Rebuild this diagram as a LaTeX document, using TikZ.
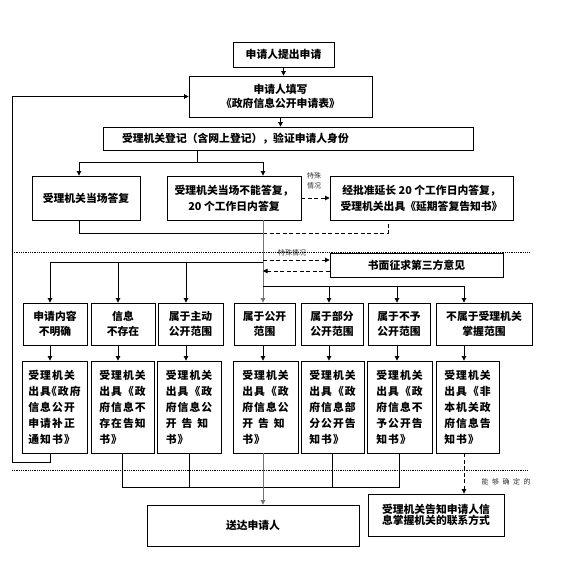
\documentclass[tikz,border=0pt]{standalone}
\usepackage{fontspec}
\setmainfont{Noto Sans CJK SC}
\newfontfamily\dfont[LetterSpace=10]{Noto Sans CJK SC}
\newfontfamily\sfont[LetterSpace=50]{Noto Sans CJK SC}
\usetikzlibrary{arrows.meta}

\begin{document}
\begin{tikzpicture}[
  x=1pt, y=-1pt,
  box/.style={draw, line width=0.8pt, inner sep=1pt, align=center,
              font=\fontsize{10.8}{15}\selectfont\bfseries},
  kind/.style={box, minimum height=42pt},
  doc/.style={draw, line width=0.8pt, inner sep=1pt, align=left,
              minimum height=92pt, font=\dfont\fontsize{10.8}{16}\selectfont\bfseries},
  arrow/.style={-{Triangle[length=4.5pt,width=4.5pt]}, line width=0.7pt},
  link/.style={line width=0.7pt},
  spine/.style={line width=0.7pt, black!55},
  maybe/.style={line width=0.7pt, dash pattern=on 4pt off 2.5pt},
  sep/.style={line width=0.6pt, dash pattern=on 0.8pt off 1pt},
  note/.style={font=\fontsize{7}{10}\selectfont, align=center, text=black!80, inner sep=0pt}
]
  \useasboundingbox (0,0) rectangle (563,561);

  % top part
  \node[box, minimum width=101pt, minimum height=25pt] (apply) at (283.5,54.5) {申请人提出申请};
  \node[box, minimum width=183pt, minimum height=41pt, font=\fontsize{10.8}{14}\selectfont\bfseries]
        (fill) at (280.5,96.5) {申请人填写\\《政府信息公开申请表》};
  \node[box, minimum width=370pt, minimum height=23pt, text width=332pt, align=left]
        (register) at (288,138.5) {受理机关登记（含网上登记），验证申请人身份};

  \node[box, minimum width=108pt, minimum height=44pt] (now) at (86,198) {受理机关当场答复};
  \node[box, minimum width=134pt, minimum height=44pt, font=\fontsize{10.8}{16}\selectfont\bfseries]
        (later) at (234,198) {受理机关当场不能答复，\\20 个工作日内答复};
  \node[box, minimum width=183pt, minimum height=44pt, font=\fontsize{10.8}{16}\selectfont\bfseries]
        (extend) at (421.5,198) {经批准延长 20 个工作日内答复，\\受理机关出具《延期答复告知书》};
  \node[note] (special1) at (314,181) {特殊\\情况};

  \node[box, minimum width=173pt, minimum height=24pt] (consult) at (416.5,265) {书面征求第三方意见};
  \node[note] (special2) at (292,253) {特殊情况};

  % kinds of request
  \node[kind, minimum width=64pt] (unclear)  at (55,324)    {申请内容\\不明确};
  \node[kind, minimum width=64pt] (nonexist) at (123,324)   {信息\\不存在};
  \node[kind, minimum width=65pt] (active)   at (190.5,324) {属于主动\\公开范围};
  \node[kind, minimum width=61pt] (open)     at (264.5,324) {属于公开\\范围};
  \node[kind, minimum width=62pt] (partial)  at (332,324)   {属于部分\\公开范围};
  \node[kind, minimum width=62pt] (closed)   at (399,324)   {属于不予\\公开范围};
  \node[kind, minimum width=96pt] (notours)  at (484,324)   {不属于受理机关\\掌握范围};

  % notices
  \node[doc, minimum width=65pt] (d1) at (54.5,407)  {受理机关\\出具\kern-5pt《政府\\信息公开\\申请补正\\通知书》};
  \node[doc, minimum width=63pt] (d2) at (122.5,407) {受理机关\\出具《政\\府信息不\\存在告知\\书》};
  \node[doc, minimum width=64pt] (d3) at (189,407)   {受理机关\\出具《政\\府信息公\\开\hspace{5pt}告\hspace{5pt}知\\书》};
  \node[doc, minimum width=65pt] (d4) at (265.5,407) {受理机关\\出具《政\\府信息公\\开\hspace{5pt}告\hspace{5pt}知\\书》};
  \node[doc, minimum width=63pt] (d5) at (332.5,407) {受理机关\\出具《政\\府信息部\\分公开告\\知书》};
  \node[doc, minimum width=65pt] (d6) at (399.5,407) {受理机关\\出具《政\\府信息不\\予公开告\\知书》};
  \node[doc, minimum width=63pt] (d7) at (467.5,407) {受理机关\\出具《非\\本机关政\\府信息告\\知书》};

  % bottom
  \node[box, minimum width=212pt, minimum height=41pt] (send) at (253,525.5) {送达申请人};
  \node[box, minimum width=136pt, minimum height=42pt, font=\fontsize{10.8}{11.5}\selectfont\bfseries]
        (contact) at (436,515) {受理机关告知申请人信\\息掌握机关的联系方式};
  \node[note, font=\sfont\fontsize{7}{8}\selectfont] (sure) at (506,482) {能够确定的};

  % junctions
  \coordinate (j0) at (197,162);
  \coordinate (j1) at (79,233);
  \coordinate (j2) at (388,233);
  \coordinate (k1) at (50,262);
  \coordinate (k2) at (118,262);
  \coordinate (k3) at (186,262);
  \coordinate (k4) at (263,262);
  \coordinate (k5) at (329,286);
  \coordinate (k6) at (397,286);
  \coordinate (k7) at (464,286);
  \coordinate (ask) at (263,260);
  \coordinate (answer) at (263,271);
  \coordinate (back) at (12,462);
  \coordinate (merge) at (0,487);

  % separators
  \draw[sep] (12,252) -- (529,252);
  \draw[sep] (12,470) -- (528,470);

  % arrows
  \draw[arrow] (apply.south) -- (apply.south |- fill.north);
  \draw[arrow] (fill.south) -- (fill.south |- register.north);
  \draw[link] (j0 |- register.south) -- (j0);
  \draw[arrow] (j0) -| (j1 |- now.north);
  \draw[arrow] (j0) -| (k4 |- later.north);
  \draw[maybe, arrow] (later.east) -- (extend.west);

  \draw[link] (j1 |- now.south) -- (j1) -- (k4 |- j1);
  \draw[maybe] (k4 |- j1) -- (j2) -- (j2 |- extend.south);

  \draw[spine, arrow] (k4 |- later.south) -- (k4 |- open.north);
  \draw[maybe, arrow] (ask) -- (ask -| consult.west);
  \draw[maybe, arrow] (answer -| consult.west) -- (answer);

  \draw[link] (k4) -- (k1);
  \foreach \k/\c in {k1/unclear, k2/nonexist, k3/active}
    \draw[arrow] (\k) -- (\k |- \c.north);
  \draw[link] (k4 |- k5) -- (k7);
  \foreach \k/\c in {k5/partial, k6/closed, k7/notours}
    \draw[arrow] (\k) -- (\k |- \c.north);

  \foreach \k/\c/\d in {k1/unclear/d1, k2/nonexist/d2, k3/active/d3, k4/open/d4,
                        k5/partial/d5, k6/closed/d6, k7/notours/d7}
    \draw[arrow] (\k |- \c.south) -- (\k |- \d.north);

  % back to the form
  \draw[arrow] (k1 |- d1.south) |- (back) |- (fill.west);

  % to the applicant
  \draw[link] (d2.south) -- (d2.south |- merge) -- (d6.south |- merge) -- (d6.south);
  \draw[link] (d3.south) -- (d3.south |- merge);
  \draw[link] (d5.south) -- (d5.south |- merge);
  \draw[spine, arrow] (k4 |- d4.south) -- (k4 |- send.north);
  \draw[maybe, arrow] (k7 |- d7.south) -- (k7 |- contact.north);
\end{tikzpicture}
\end{document}
